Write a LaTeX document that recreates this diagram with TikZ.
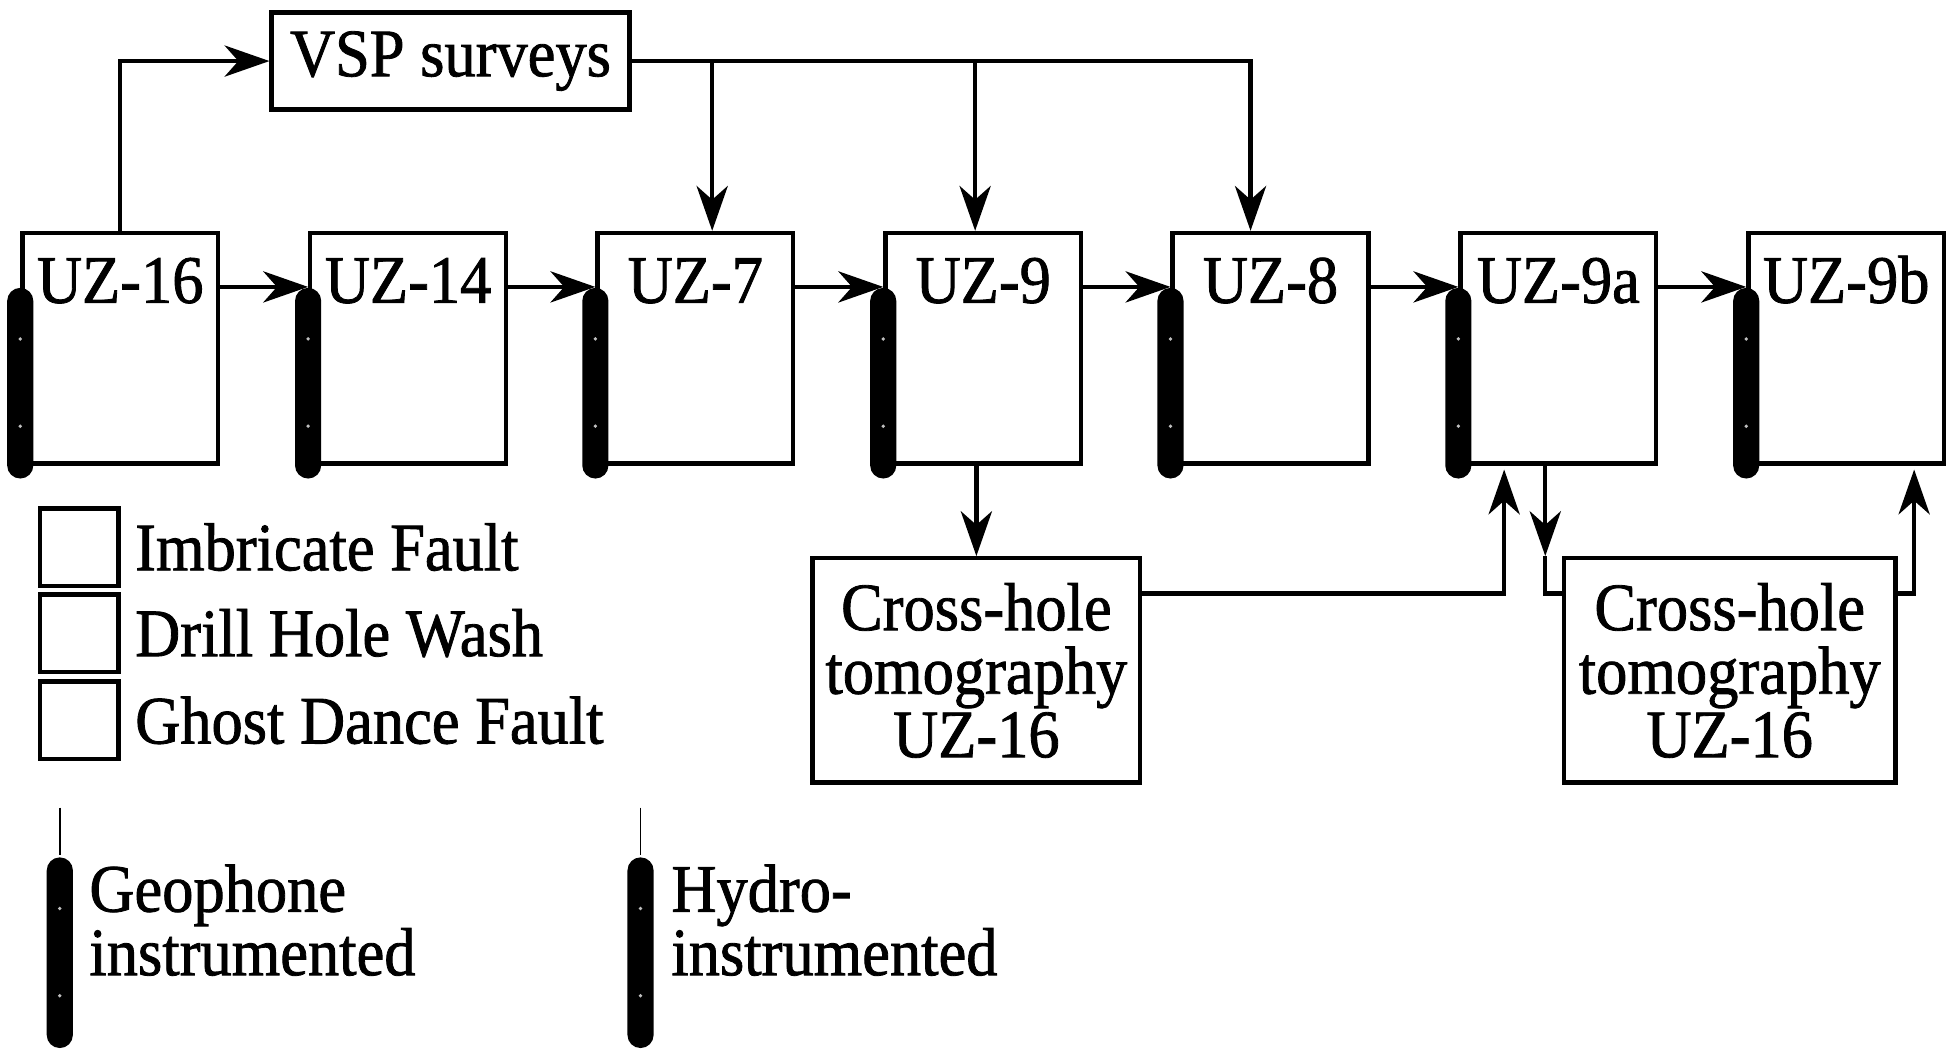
\documentclass[tikz,border=0pt]{standalone}
\usepackage{fontspec}
\setmainfont{Liberation Serif}[FakeStretch=0.92, FakeBold=1.2]
\usetikzlibrary{arrows.meta,positioning}

\begin{document}
\begin{tikzpicture}[
  font=\fontsize{31pt}{29pt}\selectfont,
  line width=2pt,
  well/.style={draw, minimum width=3.14cm, inner sep=0, text height=1.12cm, text depth=2.58cm},
  box/.style={draw, align=center, minimum width=5.26cm, minimum height=3.6cm, inner sep=0},
  bar/.style={fill=black, rounded corners=0.21cm, minimum width=0.42cm, minimum height=3.06cm, inner sep=0,
    path picture={\fill[gray!50] ([yshift=-0.82cm]path picture bounding box.north) circle (0.03cm)
      ([yshift=-2.22cm]path picture bounding box.north) circle (0.03cm);}},
  legbox/.style={draw, minimum width=1.26cm, minimum height=1.24cm, inner sep=0},
  legtext/.style={anchor=west, inner sep=0},
  arr/.style={-{Stealth[length=0.72cm, width=0.5cm, inset=0.22cm]}}
]
\useasboundingbox (0,0) rectangle (31.36,-16.86);

\node[draw, minimum width=5.74cm, minimum height=1.56cm] (vsp) at (7.23,-0.98) {VSP surveys};

\node[well] (uz16) at (1.93,-5.59) {UZ-16};
\node[well] (uz14) at (6.55,-5.59) {UZ-14};
\node[well] (uz7) at (11.16,-5.59) {UZ-7};
\node[well] (uz9) at (15.78,-5.59) {UZ-9};
\node[well] (uz8) at (20.39,-5.59) {UZ-8};
\node[well] (uz9a) at (25.01,-5.59) {UZ-9a};
\node[well] (uz9b) at (29.63,-5.59) {UZ-9b};

% geophone strings
\node[bar] (uz16g) at ([yshift=-0.56cm]uz16.west) {};
\node[bar] (uz14g) at ([yshift=-0.56cm]uz14.west) {};
\node[bar] (uz7g) at ([yshift=-0.56cm]uz7.west) {};
\node[bar] (uz9g) at ([yshift=-0.56cm]uz9.west) {};
\node[bar] (uz8g) at ([yshift=-0.56cm]uz8.west) {};
\node[bar] (uz9ag) at ([yshift=-0.56cm]uz9a.west) {};
\node[bar] (uz9bg) at ([yshift=-0.56cm]uz9b.west) {};

\node[box] (cross1) at (15.67,-10.76) {Cross-hole\\tomography\\UZ-16};
\node[box, minimum width=5.32cm] (cross2) at (27.76,-10.76) {Cross-hole\\tomography\\UZ-16};

% legend
\node[legbox] (leg1) at (1.27,-8.78) {};
\node[legbox] (leg2) at (1.27,-10.16) {};
\node[legbox] (leg3) at (1.27,-11.56) {};
\node[legtext, right=0.2cm of leg1] (leg1t) {Imbricate Fault};
\node[legtext, right=0.2cm of leg2] (leg2t) {Drill Hole Wash};
\node[legtext, right=0.2cm of leg3] (leg3t) {Ghost Dance Fault};

\node[bar] (geobar) at (0.96,-15.29) {};
\node[bar] (hydrobar) at (10.28,-15.29) {};
\coordinate (geotop) at (0.96,-12.96);
\coordinate (hydrotop) at (10.28,-12.96);
\draw[line width=0.8pt] (geotop) -- (geobar.north);
\draw[line width=0.8pt] (hydrotop) -- (hydrobar.north);
\node[legtext, anchor=north west, align=left] (geotext) at (1.4,-13.84) {Geophone\\instrumented};
\node[legtext, anchor=north west, align=left] (hydrotext) at (10.74,-13.84) {Hydro-\\instrumented};

\draw[arr] (uz16.north) |- (vsp.west);
\draw[arr] (vsp.east) -| ([xshift=0.27cm]uz7.north);
\draw[arr] (vsp.east) -| ([xshift=-0.13cm]uz9.north);
\draw[arr] (vsp.east) -| ([xshift=-0.32cm]uz8.north);

\draw[arr] ([yshift=-0.9cm]uz16.north east) -- ([yshift=-0.9cm]uz14.north west);
\draw[arr] ([yshift=-0.9cm]uz14.north east) -- ([yshift=-0.9cm]uz7.north west);
\draw[arr] ([yshift=-0.9cm]uz7.north east) -- ([yshift=-0.9cm]uz9.north west);
\draw[arr] ([yshift=-0.9cm]uz9.north east) -- ([yshift=-0.9cm]uz8.north west);
\draw[arr] ([yshift=-0.9cm]uz8.north east) -- ([yshift=-0.9cm]uz9a.north west);
\draw[arr] ([yshift=-0.9cm]uz9a.north east) -- ([yshift=-0.9cm]uz9b.north west);

\draw[arr] (uz9.south -| cross1.north) -- (cross1.north);
\draw[arr] ([yshift=-0.6cm]cross1.north east) -| ([xshift=-0.87cm, yshift=-0.06cm]uz9a.south);
\draw[arr] ([xshift=-0.21cm]uz9a.south) -- ([xshift=-0.21cm]uz9a.south |- cross2.north);
\draw ([xshift=-0.21cm]uz9a.south |- cross2.north) |- ([yshift=-0.6cm]cross2.north west);
\draw[arr] ([yshift=-0.6cm]cross2.north east) -| ([xshift=1.09cm, yshift=-0.06cm]uz9b.south);
\end{tikzpicture}
\end{document}
